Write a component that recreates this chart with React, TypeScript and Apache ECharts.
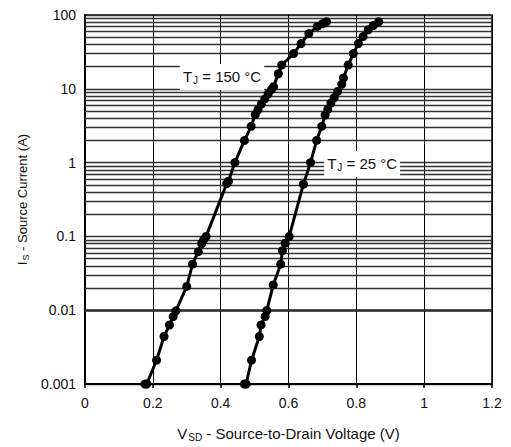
import React, { useEffect, useRef } from "react";
import * as echarts from "echarts";

// T_J = 150 °C curve
const V150 = [0.177, 0.182, 0.211, 0.233, 0.249, 0.26, 0.268, 0.3, 0.317, 0.334, 0.344, 0.35, 0.357, 0.418, 0.423, 0.442, 0.47, 0.49, 0.502, 0.51, 0.52, 0.53, 0.54, 0.55, 0.556, 0.57, 0.58, 0.615, 0.637, 0.66, 0.685, 0.7, 0.712];
const I150 = [0.001, 0.001, 0.0021, 0.0044, 0.0063, 0.0082, 0.0098, 0.021, 0.042, 0.062, 0.08, 0.09, 0.1, 0.52, 0.56, 1.0, 2.0, 3.1, 4.5, 5.2, 6.2, 7.3, 8.5, 9.8, 10.7, 16, 21, 30, 41, 56, 70, 76, 81];

// T_J = 25 °C curve
const V25 = [0.47, 0.475, 0.491, 0.514, 0.519, 0.531, 0.536, 0.555, 0.577, 0.582, 0.59, 0.602, 0.644, 0.665, 0.683, 0.698, 0.708, 0.716, 0.725, 0.735, 0.745, 0.757, 0.762, 0.776, 0.791, 0.806, 0.82, 0.835, 0.85, 0.866];
const I25 = [0.001, 0.001, 0.0021, 0.0044, 0.0063, 0.0082, 0.0099, 0.022, 0.042, 0.064, 0.081, 0.1, 0.51, 1.0, 2.0, 3.1, 4.4, 5.3, 6.4, 7.6, 9.2, 11.5, 14, 21, 30, 41, 51, 63, 72, 81];

// axis ranges and ticks
const X_MIN = 0;
const X_MAX = 1.2;
const X_STEP = 0.2;
const Y_MIN = 0.001;
const Y_MAX = 100;
const DECADES = [0.001, 0.01, 0.1, 1, 10];
const MINOR_STEPS = [2, 3, 4, 5, 6, 7, 8, 9];

// curve annotations [V, I]
const LABEL150_POS = [0.404, 14.5];
const LABEL150_TEXT = " = 150 °C";
const LABEL25_POS = [0.817, 0.96];
const LABEL25_TEXT = " = 25 °C";

const FONT = "'Liberation Sans', Arial, Helvetica, sans-serif";

const pairs = (xs: number[], ys: number[]) => xs.map((x, i) => [x, ys[i]]);

const richBig = {
  t: { fontSize: 15, fontFamily: FONT, color: "#111" },
  s: { fontSize: 10, fontFamily: FONT, color: "#111", padding: [8, 0, 0, 1] },
};
const richSmall = {
  t: { fontSize: 13, fontFamily: FONT, color: "#111" },
  s: { fontSize: 9, fontFamily: FONT, color: "#111", padding: [6, 0, 0, 1] },
};

export default function App() {
  const ref = useRef<HTMLDivElement>(null);

  useEffect(() => {
    if (!ref.current) return;
    const chart = echarts.init(ref.current, undefined, { renderer: "svg" });

    const minorLines: any[] = [];
    DECADES.forEach((d) => MINOR_STEPS.forEach((m) => minorLines.push({ yAxis: +(d * m).toPrecision(3) })));

    const curveSeries = (name: string, data: number[][], labelPos: number[], labelText: string) => ({
      name,
      type: "line",
      data,
      z: 5,
      symbol: "circle",
      symbolSize: 9,
      itemStyle: { color: "#000" },
      lineStyle: { color: "#000", width: 3 },
      markPoint: {
        silent: true,
        symbol: "rect",
        symbolSize: [1, 1],
        itemStyle: { color: "rgba(0,0,0,0)" },
        label: {
          show: true,
          position: "inside",
          backgroundColor: "#fff",
          padding: [4, 3, 4, 3],
          formatter: "{t|T}{s|J}{t|" + labelText + "}",
          rich: richBig,
        },
        data: [{ coord: labelPos }],
      },
    });

    chart.setOption({
      animation: false,
      backgroundColor: "#fff",
      grid: {
        left: 85,
        right: 19,
        top: 15,
        bottom: 63,
        show: true,
        borderColor: "#000",
        borderWidth: 1.5,
      },
      xAxis: {
        type: "value",
        min: X_MIN,
        max: X_MAX,
        interval: X_STEP,
        axisLine: { show: true, lineStyle: { color: "#000", width: 2 } },
        axisTick: { show: true, length: 4, lineStyle: { color: "#000", width: 1.5 } },
        splitLine: { show: true, lineStyle: { color: "#000", width: 1 } },
        axisLabel: { fontFamily: FONT, fontSize: 14, color: "#111", margin: 12 },
        name: "{t|V}{s|SD}{t| - Source-to-Drain Voltage (V)}",
        nameLocation: "middle",
        nameGap: 40,
        nameTextStyle: { rich: richBig },
      },
      yAxis: {
        type: "log",
        logBase: 10,
        min: Y_MIN,
        max: Y_MAX,
        axisLine: { show: true, lineStyle: { color: "#000", width: 2 } },
        axisTick: { show: false },
        splitLine: { show: true, lineStyle: { color: "#333", width: 1.3 } },
        axisLabel: {
          fontFamily: FONT,
          fontSize: 14,
          color: "#111",
          margin: 9,
          formatter: (v: number) => String(+v.toPrecision(3)),
        },
        name: "{t|I}{s|S}{t| - Source Current (A)}",
        nameLocation: "middle",
        nameRotate: 90,
        nameGap: 52,
        nameTextStyle: { rich: richSmall },
      },
      series: [
        {
          name: "minor",
          type: "line",
          data: [],
          z: 1,
          silent: true,
          markLine: {
            silent: true,
            symbol: ["none", "none"],
            label: { show: false },
            lineStyle: { color: "#333", width: 1.3, type: "solid" },
            data: minorLines,
          },
        },
        curveSeries("150", pairs(V150, I150), LABEL150_POS, LABEL150_TEXT),
        curveSeries("25", pairs(V25, I25), LABEL25_POS, LABEL25_TEXT),
      ],
    });

    return () => chart.dispose();
  }, []);

  return (
    <div
      ref={ref}
      style={{ position: "fixed", left: 0, top: 0, width: 511, height: 447, background: "#fff" }}
    />
  );
}
